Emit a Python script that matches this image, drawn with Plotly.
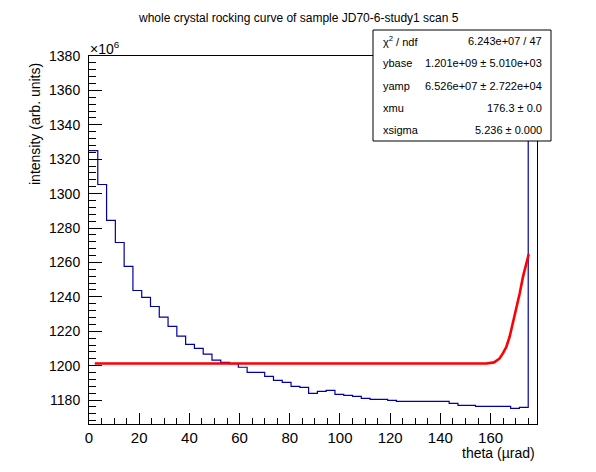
import numpy as np
import plotly.graph_objects as go

W, H = 596, 472
L, R, T, B = 89, 537, 56, 424  # plot frame in pixels

# ---- data ----
x_min, x_max = 0.0, 178.5
bin_width = 3.5
counts = [1325.0, 1305.3, 1284.4, 1271.6, 1257.7, 1243.7, 1239.7, 1234.4, 1228.2, 1222.8,
          1217.2, 1212.4, 1210.0, 1206.7, 1203.2, 1201.9, 1201.2, 1199.1, 1196.1, 1196.1,
          1193.8, 1191.4, 1190.3, 1188.0, 1187.4, 1183.9, 1185.1, 1185.6, 1183.3, 1182.7,
          1182.1, 1181.0, 1180.4, 1180.4, 1179.8, 1179.2, 1179.2, 1179.2, 1179.2, 1179.2,
          1179.2, 1178.1, 1176.9, 1176.9, 1176.3, 1176.3, 1176.3, 1176.3, 1175.2, 1175.8,
          1540.0]
fit_x = [2.3, 158.3, 161.4, 163.6, 164.9, 166.3, 167.6, 168.9, 170.3, 171.6, 172.9, 174.3, 175.2]
fit_y = [1201.3, 1201.3, 1201.9, 1204.2, 1207.1, 1211.0, 1216.8, 1224.6, 1233.3, 1242.0,
         1251.6, 1260.3, 1264.8]
y_range = [1166.1, 1380.0]
y_ticks = [1180, 1200, 1220, 1240, 1260, 1280, 1300, 1320, 1340, 1360, 1380]
x_ticks = [0, 20, 40, 60, 80, 100, 120, 140, 160]

title = "whole crystal rocking curve of sample JD70-6-study1 scan 5"
x_title = "theta (µrad)"
y_title = "intensity (arb. units)"
stats_labels = ["χ<sup>2</sup> / ndf", "ybase", "yamp", "xmu", "xsigma"]
stats_values = ["6.243e+07 / 47", "1.201e+09 ± 5.010e+03", "6.526e+07 ± 2.722e+04",
                "176.3 ± 0.0", "5.236 ± 0.000"]

# histogram edges
edges = [x_min + i * bin_width for i in range(len(counts) + 1)]
hx = edges
hy = counts + [counts[-1]]

FONT = "Liberation Sans, Arial, Helvetica, sans-serif"

def px(xp):
    return (xp - L) / (R - L)

def py(yp):
    return (B - yp) / (B - T)

fig = go.Figure()
fig.add_trace(go.Scatter(x=hx, y=hy, mode="lines", line=dict(color="#0000a8", width=1.2, shape="hv"),
                         showlegend=False, hoverinfo="skip"))
fig.add_trace(go.Scatter(x=fit_x, y=fit_y, mode="lines", line=dict(color="#ff0000", width=2.6),
                         showlegend=False, hoverinfo="skip"))

fig.update_layout(
    width=W, height=H,
    margin=dict(l=L, r=W - R, t=T, b=H - B, pad=0),
    paper_bgcolor="white", plot_bgcolor="white",
    font=dict(family=FONT, size=14, color="black"),
    showlegend=False,
    xaxis=dict(range=[x_min, x_max], tickvals=x_ticks, ticks="inside", ticklen=11, tickwidth=1,
               tickcolor="black", showline=True, linecolor="black", linewidth=1, mirror=True,
               showgrid=False, zeroline=False, ticklabelstandoff=0, automargin=False,
               minor=dict(dtick=5, ticks="inside", ticklen=6, tickcolor="black", showgrid=False),
               tickfont=dict(size=15)),
    yaxis=dict(range=y_range, tickvals=y_ticks, ticks="inside", ticklen=13, tickwidth=1,
               tickcolor="black", showline=True, linecolor="black", linewidth=1, mirror=True,
               showgrid=False, zeroline=False, ticklabelstandoff=5, automargin=False,
               minor=dict(dtick=4, ticks="inside", ticklen=7, tickcolor="black", showgrid=False),
               tickfont=dict(size=14)),
)

ann = []
ann.append(dict(text=title, x=px(298), y=py(18), xref="paper", yref="paper", showarrow=False,
                xanchor="center", yanchor="middle", font=dict(size=12)))
ann.append(dict(text=x_title, x=px(537), y=py(453), xanchor="right", yanchor="middle",
                xref="paper", yref="paper", showarrow=False, font=dict(size=14)))
ann.append(dict(text=y_title, x=px(35), y=py(124), xanchor="center", yanchor="middle", textangle=-90,
                xref="paper", yref="paper", showarrow=False, font=dict(size=14)))
ann.append(dict(text="×10<sup>6</sup>", x=px(88), y=py(48), xanchor="left", yanchor="middle",
                xref="paper", yref="paper", showarrow=False, font=dict(size=14)))

# stats box
bx0, bx1, by0, by1 = 373, 551, 30, 141
shapes = [dict(type="rect", xref="paper", yref="paper", x0=px(bx0), x1=px(bx1), y0=py(by1), y1=py(by0),
               line=dict(color="black", width=1), fillcolor="white", layer="above")]
row_h = (by1 - by0) / len(stats_labels)
for i, (lab, val) in enumerate(zip(stats_labels, stats_values)):
    yc = by0 + row_h * (i + 0.5)
    ann.append(dict(text=lab, x=px(381), y=py(yc), xanchor="left", yanchor="middle",
                    xref="paper", yref="paper", showarrow=False, font=dict(size=11)))
    ann.append(dict(text=val, x=px(544), y=py(yc), xanchor="right", yanchor="middle",
                    xref="paper", yref="paper", showarrow=False, font=dict(size=11)))

fig.update_layout(annotations=ann, shapes=shapes)
fig.write_html("out.html", config={"displayModeBar": False},
               post_script="document.body.style.margin='0px';")
